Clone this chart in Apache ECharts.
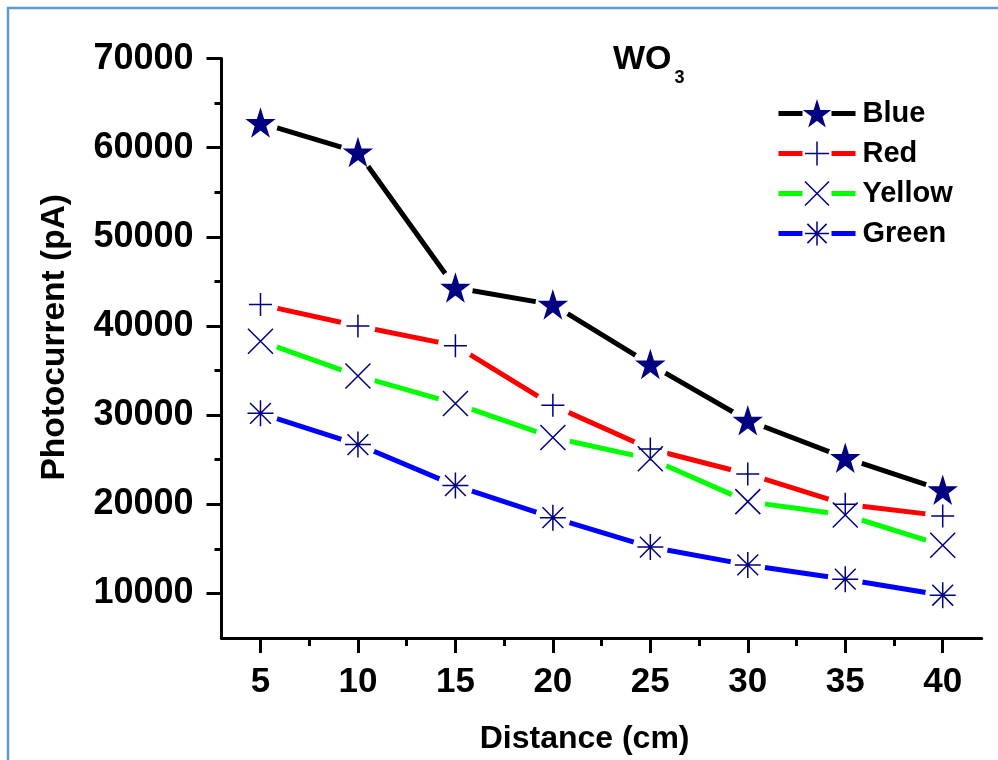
<!DOCTYPE html>
<html>
<head>
<meta charset="utf-8">
<script src="https://cdn.jsdelivr.net/npm/echarts@6.0.0/dist/echarts.min.js"></script>
<style>
html, body { margin: 0; padding: 0; background: #fff; }
#main { width: 998px; height: 760px; }
</style>
</head>
<body>
<div id="main"></div>
<script>
// data
var distance = [5, 10, 15, 20, 25, 30, 35, 40];
var blue   = [62800, 59500, 44300, 42400, 35700, 29400, 25200, 21600];
var red    = [42400, 40000, 37800, 31100, 26200, 23400, 20000, 18700];
var yellow = [38300, 34400, 31300, 27500, 25100, 20300, 18800, 15400];
var green  = [30200, 26700, 22100, 18500, 15200, 13200, 11600, 9800];

var xMajor = [5, 10, 15, 20, 25, 30, 35, 40];
var xMinor = [7.5, 12.5, 17.5, 22.5, 27.5, 32.5, 37.5];
var yMajor = [10000, 20000, 30000, 40000, 50000, 60000, 70000];
var yMinor = [15000, 25000, 35000, 45000, 55000, 65000];

var FONT = 'Liberation Sans, Arial, sans-serif';
var NAVY = '#000080';

// marker shapes
var starPath = 'path://M10,0 L12.25,6.91 L19.51,6.91 L13.63,11.18 L15.88,18.09 L10,13.82 L4.12,18.09 L6.37,11.18 L0.49,6.91 L7.75,6.91 Z';
var plusPath = 'path://M10,0 L10,20 M0,10 L20,10';
var crossPath = 'path://M0,0 L20,20 M20,0 L0,20';
var asterPath = 'path://M10,0 L10,20 M0,10 L20,10 M2,2 L18,18 M18,2 L2,18';

var sets = [
    { name: 'Blue',   values: blue,   line: '#000000', symbol: starPath,  size: 26, fill: NAVY },
    { name: 'Red',    values: red,    line: '#ff0000', symbol: plusPath,  size: 23, fill: 'rgba(0,0,0,0)' },
    { name: 'Yellow', values: yellow, line: '#00ff00', symbol: crossPath, size: 25, fill: 'rgba(0,0,0,0)' },
    { name: 'Green',  values: green,  line: '#0000ff', symbol: asterPath, size: 26, fill: 'rgba(0,0,0,0)' }
];

function pairs(vals) {
    return distance.map(function (d, i) { return [d, vals[i]]; });
}

var series = [];
sets.forEach(function (s) {
    var style = { color: s.fill, borderColor: NAVY, borderWidth: 1.5, opacity: 1 };
    // empty series, only gives the legend its line + marker icon
    series.push({
        name: s.name,
        type: 'line',
        data: [],
        symbol: s.symbol,
        symbolSize: s.size,
        lineStyle: { color: s.line, width: 5 },
        itemStyle: style
    });
    // the line; white discs at the points open the gaps (Origin style)
    series.push({
        name: s.name + ' line',
        type: 'line',
        data: pairs(s.values),
        symbol: 'circle',
        symbolSize: 35,
        showSymbol: true,
        lineStyle: { color: s.line, width: 5 },
        itemStyle: { color: '#ffffff', opacity: 1 },
        silent: true
    });
    // the marker on top
    series.push({
        name: s.name + ' marker',
        type: 'scatter',
        data: pairs(s.values),
        symbol: s.symbol,
        symbolSize: s.size,
        itemStyle: style,
        z: 5
    });
});

var chart = echarts.init(document.getElementById('main'));

var option = {
    backgroundColor: '#ffffff',
    animation: false,
    title: {
        text: '{a|WO}{b|3}',
        left: 608,
        top: 28,
        textStyle: {
            rich: {
                a: { fontSize: 34, fontWeight: 'bold', fontFamily: FONT, color: '#000' },
                b: { fontSize: 18, fontWeight: 'bold', fontFamily: FONT, color: '#000', padding: [36, 0, 0, 3] }
            }
        }
    },
    legend: {
        orient: 'vertical',
        left: 776,
        top: 99,
        padding: 0,
        data: ['Blue', 'Red', 'Yellow', 'Green'],
        itemWidth: 77,
        itemHeight: 30,
        itemGap: 11,
        lineStyle: { width: 5, type: [24, 29] },
        itemStyle: { borderColor: NAVY, borderWidth: 1.5 },
        textStyle: { fontSize: 29, fontWeight: 'bold', fontFamily: FONT, color: '#000', padding: [0, 0, 0, 2] }
    },
    grid: {
        left: 221.5,
        right: 16.3,
        top: 58.6,
        bottom: 121
    },
    xAxis: [{
        type: 'value',
        min: 3,
        max: 42,
        name: 'Distance (cm)',
        nameLocation: 'middle',
        nameGap: 85,
        nameTextStyle: { fontSize: 32, fontWeight: 'bold', fontFamily: FONT, color: '#000', padding: [0, 34, 0, 0] },
        axisLine: { onZero: false, lineStyle: { color: '#000', width: 3 } },
        axisTick: { customValues: xMajor, length: 15, lineStyle: { color: '#000', width: 3 } },
        axisLabel: {
            customValues: xMajor,
            margin: 27,
            fontSize: 35,
            fontWeight: 'bold',
            fontFamily: FONT,
            color: '#000'
        },
        splitLine: { show: false }
    }, {
        type: 'value',
        min: 3,
        max: 42,
        position: 'bottom',
        axisLine: { show: false },
        axisTick: { customValues: xMinor, length: 8, lineStyle: { color: '#000', width: 3 } },
        axisLabel: { show: false },
        splitLine: { show: false }
    }],
    yAxis: [{
        type: 'value',
        min: 5000,
        max: 70000,
        name: 'Photocurrent (pA)',
        nameLocation: 'middle',
        nameGap: 150,
        nameTextStyle: { fontSize: 33.5, fontWeight: 'bold', fontFamily: FONT, color: '#000', padding: [0, 0, 0, 22] },
        axisLine: { onZero: false, lineStyle: { color: '#000', width: 3 } },
        axisTick: { customValues: yMajor, length: 15, lineStyle: { color: '#000', width: 3 } },
        axisLabel: {
            customValues: yMajor,
            margin: 28,
            fontSize: 36,
            fontWeight: 'bold',
            fontFamily: FONT,
            color: '#000',
            formatter: function (v) { return String(v); }
        },
        splitLine: { show: false }
    }, {
        type: 'value',
        min: 5000,
        max: 70000,
        position: 'left',
        axisLine: { show: false },
        axisTick: { customValues: yMinor, length: 7, lineStyle: { color: '#000', width: 3 } },
        axisLabel: { show: false },
        splitLine: { show: false }
    }],
    graphic: [{
        type: 'rect',
        shape: { x: 8, y: 8, width: 1100, height: 900 },
        style: { fill: 'none', stroke: '#5b9bd5', lineWidth: 2.5 },
        silent: true,
        z: 0
    }],
    series: series
};

chart.setOption(option);

window.onresize = function () {
    chart.resize();
};
</script>
</body>
</html>
